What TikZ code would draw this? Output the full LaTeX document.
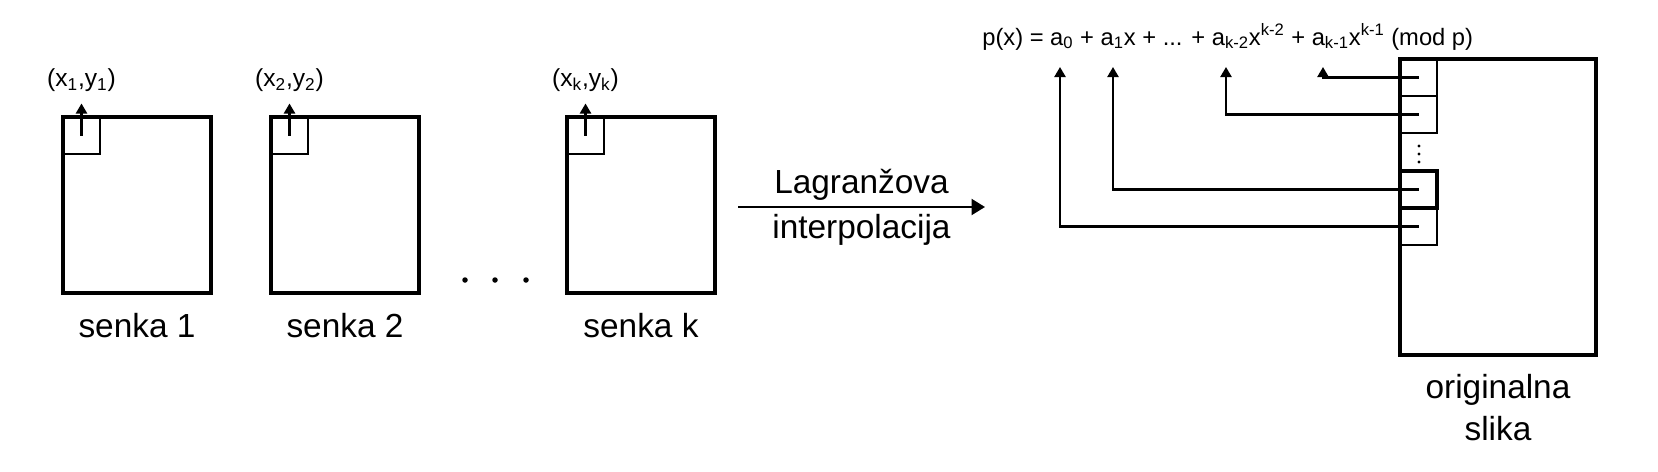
\documentclass[tikz,border=0pt]{standalone}
\usepackage{fontspec}
\setmainfont{Liberation Sans}
\usetikzlibrary{arrows.meta,positioning}
\tikzset{
  >={Triangle[length=2mm,width=2.2mm]},
  shadow/.style={draw, line width=2pt, outer sep=0pt, inner sep=0pt, minimum width=2.96cm, minimum height=3.52cm},
  orig/.style={draw, line width=2pt, outer sep=0pt, inner sep=0pt, minimum width=3.92cm, minimum height=5.92cm},
  cell/.style={draw, line width=1.2pt, outer sep=0pt, inner sep=0pt, minimum size=0.74cm, anchor=north west},
  lbl/.style={font=\fontsize{19}{24}\selectfont, align=center},
  pt/.style={font=\fontsize{14}{17}\selectfont, inner sep=1pt},
  link/.style={->, line width=1.3pt},
}
\begin{document}
\begin{tikzpicture}
  \useasboundingbox (0,0) rectangle (33.16,-9.44);
  % shadows
  \node[shadow] (s1) at (2.74,-4.10) {};
  \node[shadow] (s2) at (6.90,-4.10) {};
  \node[shadow] (sk) at (12.82,-4.10) {};
  \foreach \s in {1,2,k} {
    \node[cell] (c\s) at (s\s.north west) {};
    \node[pt, above=0.47cm of c\s] (p\s) {(x\textsubscript{\s},y\textsubscript{\s})};
    \draw[link, shorten >=0.2cm] (c\s.center) -- (c\s.center |- p\s.south);
    \node[lbl, below=0.29cm of s\s] (n\s) {senka \s};
  }
  \foreach \x in {9.30,9.90,10.52} \fill (\x,-5.60) circle (0.055);
  % interpolation
  \coordinate (li) at (14.76,-4.14);
  \coordinate (lo) at (19.70,-4.14);
  \draw[-{Triangle[length=2.7mm,width=3.2mm]}, line width=1.3pt] (li) -- node[lbl, above]{Lagranžova} node[lbl, below]{interpolacija} (lo);
  % original image
  \node[orig] (big) at (29.96,-4.14) {};
  \node[lbl, below=0.26cm of big] (nb) {originalna\\slika};
  \node[cell] (r1) at (big.north west) {};
  \node[cell] (r2) at (r1.south west) {};
  \node[cell, line width=2pt] (r3) at ([yshift=-2.24cm]big.north west) {};
  \node[cell] (r4) at (r3.south west) {};
  \foreach \y in {-2.92,-3.08,-3.24} \fill (28.38,\y) circle (0.032);
  % polynomial
  \node[pt, font=\fontsize{13.5}{16}\selectfont, anchor=base west, inner sep=0pt] (pf) at (19.64,-0.90) {p(x) = a\textsubscript{0} + a\textsubscript{1}x + ... + a\textsubscript{k-2}x\textsuperscript{k-2} + a\textsubscript{k-1}x\textsuperscript{k-1} (mod p)};
  \coordinate (a0) at (21.20,-1.34);
  \coordinate (a1) at (22.26,-1.34);
  \coordinate (ak2) at (24.52,-1.34);
  \coordinate (ak1) at (26.46,-1.34);
  \draw[link] (r1.center) -| (ak1);
  \draw[link] (r2.center) -| (ak2);
  \draw[link] (r3.center) -| (a1);
  \draw[link] (r4.center) -| (a0);
\end{tikzpicture}
\end{document}
